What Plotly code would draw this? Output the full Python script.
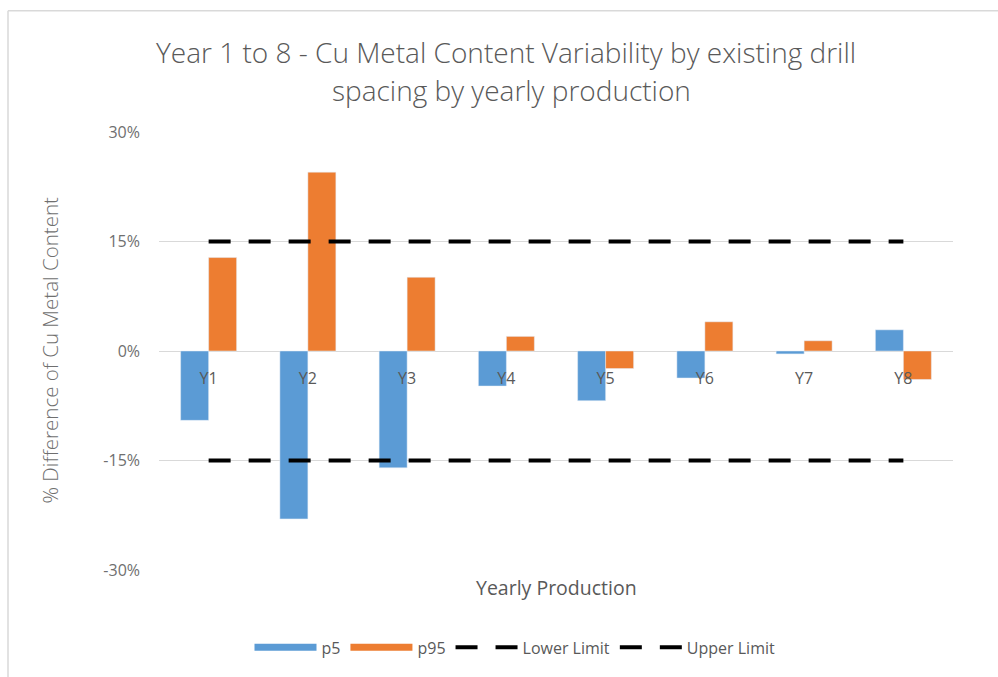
import plotly.graph_objects as go

# Yearly production periods
years = ["Y1", "Y2", "Y3", "Y4", "Y5", "Y6", "Y7", "Y8"]

# % difference of Cu metal content, 5th and 95th percentiles
p5 = [-9.5, -23.0, -16.0, -4.8, -6.8, -3.7, -0.4, 2.9]
p95 = [12.8, 24.5, 10.1, 2.0, -2.4, 4.0, 1.4, -3.9]

# Tolerance band
lower_limit = [-15] * len(years)
upper_limit = [15] * len(years)

y_ticks = [-30, -15, 0, 15, 30]
y_tick_text = ["-30%", "-15%", "0%", "15%", "30%"]

title_lines = ["Year 1 to 8 - Cu Metal Content Variability by existing drill",
               "spacing by yearly production"]

BLUE = "#5B9BD5"
ORANGE = "#ED7D31"
GREY_TXT = "#595959"
GREY_TICK = "#6f6f6f"
GRID = "#d9d9d9"
FONT = "'Open Sans', Lato, sans-serif"

# plot-area geometry in pixels
W, H = 998, 677
ML, MR, MT, MB = 159, 45, 132, 104
PW, PH = W - ML - MR, H - MT - MB


def px_x(px):
    return (px - ML) / PW


def px_y(py):
    return (H - MB - py) / PH


fig = go.Figure()

fig.add_trace(go.Bar(x=years, y=p5, name="p5", marker_color=BLUE,
                     showlegend=False, legendgroup="p5"))
fig.add_trace(go.Bar(x=years, y=p95, name="p95", marker_color=ORANGE,
                     showlegend=False, legendgroup="p95"))

# wide legend swatches for the bar series
fig.add_trace(go.Scatter(x=[None], y=[None], mode="lines", name="p5",
                         line=dict(color=BLUE, width=7), legendgroup="p5"))
fig.add_trace(go.Scatter(x=[None], y=[None], mode="lines", name="p95",
                         line=dict(color=ORANGE, width=7), legendgroup="p95"))

dash = "22px,18px"
fig.add_trace(go.Scatter(x=years, y=lower_limit, mode="lines", name="Lower Limit",
                         line=dict(color="black", width=4, dash=dash)))
fig.add_trace(go.Scatter(x=years, y=upper_limit, mode="lines", name="Upper Limit",
                         line=dict(color="black", width=4, dash=dash)))

# two-line chart heading
heading = [
    dict(text=line, xref="paper", yref="paper",
         x=px_x(cx), y=px_y(cy), xanchor="center", yanchor="middle",
         showarrow=False,
         font=dict(family=FONT, size=28, color=GREY_TXT, weight=300))
    for line, cx, cy in zip(title_lines, [506, 511], [51, 90])
]

fig.update_layout(
    width=W, height=H,
    margin=dict(l=ML, r=MR, t=MT, b=MB),
    paper_bgcolor="white", plot_bgcolor="white",
    font=dict(family=FONT, color=GREY_TXT),
    barmode="group", bargap=0.436, bargroupgap=0,
    xaxis=dict(
        anchor="free", position=px_y(352),
        showgrid=False, showline=False, zeroline=False,
        ticks="", ticklabelstandoff=16,
        tickfont=dict(size=16, color=GREY_TXT),
    ),
    yaxis=dict(
        range=[-30, 30], tickvals=y_ticks, ticktext=y_tick_text,
        showgrid=True, gridcolor=GRID, gridwidth=1,
        zeroline=True, zerolinecolor=GRID, zerolinewidth=1,
        showline=False, ticks="", ticklabelstandoff=18,
        tickfont=dict(size=16, color=GREY_TICK),
    ),
    legend=dict(
        orientation="h", x=px_x(515), xanchor="center",
        y=px_y(651), yanchor="middle",
        font=dict(size=16, color=GREY_TXT),
        itemwidth=62, traceorder="normal",
    ),
    annotations=heading + [
        dict(text="% Difference of Cu Metal Content", textangle=-90,
             xref="paper", yref="paper", x=px_x(50), y=px_y(352),
             xanchor="center", yanchor="middle", showarrow=False,
             font=dict(size=20.5, color=GREY_TICK, weight=300)),
        dict(text="Yearly Production",
             xref="paper", yref="paper", x=px_x(556), y=px_y(591),
             xanchor="center", yanchor="middle", showarrow=False,
             font=dict(size=19.5, color=GREY_TXT)),
    ],
    shapes=[
        # chart-area border (left and top edges)
        dict(type="line", xref="paper", yref="paper",
             x0=px_x(8), x1=px_x(8), y0=px_y(10), y1=px_y(H + 5),
             line=dict(color=GRID, width=1.5)),
        dict(type="line", xref="paper", yref="paper",
             x0=px_x(8), x1=px_x(W + 5), y0=px_y(10), y1=px_y(10),
             line=dict(color=GRID, width=1.5)),
    ],
)

fig.write_html("out.html")
